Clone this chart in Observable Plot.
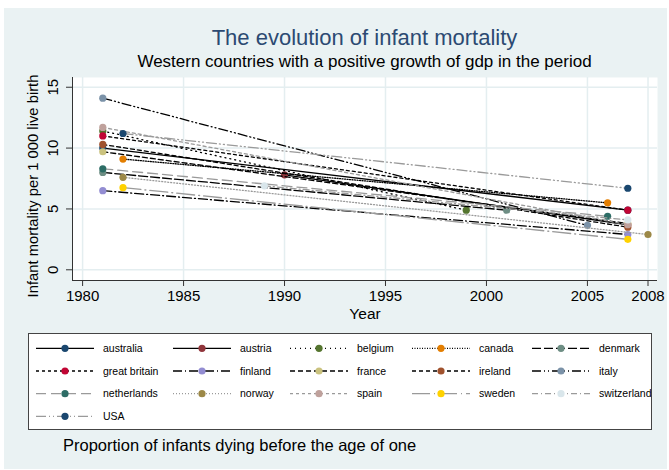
<!DOCTYPE html>
<html>
<head>
<meta charset="utf-8">
<script src="https://cdn.jsdelivr.net/npm/d3@7"></script>
<script src="https://cdn.jsdelivr.net/npm/@observablehq/plot@0.6"></script>
<style>
  html, body { margin: 0; padding: 0; background: #fff; }
  #wrap { position: relative; width: 669px; height: 470px; overflow: hidden; background: #fff;
          font-family: "Liberation Sans", Arial, sans-serif; color: #000; }
  #bg { position: absolute; left: 4px; top: 8px; width: 663px; height: 461px; background: #EAF2F3; }
  .abs { position: absolute; white-space: nowrap; }
  #title { left: 72px; width: 585px; top: 25px; height: 26px; line-height: 26px; text-align: center;
           font-size: 22px; color: #2C4A72; }
  #subtitle { left: 72px; width: 585px; top: 51px; height: 22px; line-height: 22px; text-align: center;
              font-size: 17px; }
  #chart { left: 0; top: 0; }
  #legend { left: 28px; top: 333px; width: 624px; height: 97px; box-sizing: border-box;
            background: #fff; border: 1px solid #444; }
  #caption { left: 63px; top: 435px; height: 20px; line-height: 20px; font-size: 16.5px; }
</style>
</head>
<body>
<div id="wrap">
  <div id="bg"></div>
  <div id="title" class="abs">The evolution of infant mortality</div>
  <div id="subtitle" class="abs">Western countries with a positive growth of gdp in the period</div>
  <div id="chart" class="abs"></div>
  <div id="legend" class="abs"></div>
  <div id="caption" class="abs">Proportion of infants dying before the age of one</div>
</div>
<script>
// ---- data ----
const countries = ["australia","austria","belgium","canada","denmark","great britain","finland","france","ireland","italy","netherlands","norway","spain","sweden","switzerland","USA"];
const startYear  = [1981, 1990, 1981, 1982, 1981, 1981, 1981, 1981, 1981, 1981, 1981, 1982, 1981, 1982, 1989, 1982];
const startValue = [10.0, 7.8, 11.4, 9.1, 8.0, 11.0, 6.5, 9.7, 10.3, 14.1, 8.3, 7.6, 11.7, 6.75, 6.9, 11.2];
const endYear    = [2007, 2007, 1999, 2006, 2001, 2007, 2007, 2007, 2007, 2005, 2006, 2008, 2007, 2007, 2007, 2007];
const endValue   = [4.9, 3.7, 4.9, 5.5, 4.9, 4.9, 2.9, 3.8, 3.5, 3.65, 4.4, 2.9, 3.7, 2.5, 4.1, 6.7];
const xTicks = [1980, 1985, 1990, 1995, 2000, 2005, 2008];
const yTicks = [0, 5, 10, 15];

// ---- styles ----
const markerColors = ["#1A476F","#90353B","#55752F","#E37E00","#6E8E84","#C10534","#938DD2","#CAC27E","#A0522D","#7B92A8","#2D6D66","#9C8847","#BFA19C","#FFD200","#D9E6EB","#1A476F"];
const lineColors = countries.map((c, i) => i < 10 ? "#000" : "#9A9A9A");
const dashes = [null, null, "1 4", "1 1.5", "9 3", "3 3", "9 3 1 3", "5 3", "4 3", "9 3 1 3 1 3", "10 5", "1 2", "3 3", "18 4 1 4", "6 3 1 3", "10 3 1 3 1 3"];

const points = [];
countries.forEach((c, i) => {
  points.push({country: c, i, year: startYear[i], value: startValue[i]});
  points.push({country: c, i, year: endYear[i], value: endValue[i]});
});

const xDomain = [1979.5, 2008.47];
const yDomain = [-0.88, 15.8];
const font = "Liberation Sans, Arial, sans-serif";

const seriesMarks = countries.flatMap((c, i) => {
  const pts = points.filter(d => d.i === i);
  return [
    Plot.line(pts, {
      x: "year", y: "value", stroke: lineColors[i], strokeWidth: 1.3,
      strokeDasharray: dashes[i] || undefined
    }),
    Plot.dot(pts, {x: "year", y: "value", fill: markerColors[i], r: 3.6, stroke: "none"})
  ];
});

const chart = Plot.plot({
  width: 669, height: 330,
  marginLeft: 72, marginRight: 12, marginTop: 77, marginBottom: 50,
  style: {background: "transparent", fontFamily: font, fontSize: "15px", color: "#000", overflow: "visible"},
  x: {domain: xDomain},
  y: {domain: yDomain},
  marks: [
    Plot.frame({fill: "white", stroke: "none"}),
    Plot.gridX(xTicks, {stroke: "#E4EEF0", strokeOpacity: 1, strokeWidth: 1.5}),
    Plot.gridY(yTicks, {stroke: "#E4EEF0", strokeOpacity: 1, strokeWidth: 1.5}),
    ...seriesMarks,
    Plot.ruleY([yDomain[0]], {stroke: "#333", strokeWidth: 1}),
    Plot.ruleX([xDomain[0]], {stroke: "#333", strokeWidth: 1}),
    Plot.axisX(xTicks, {tickSize: 6, tickPadding: 4, label: null, fontSize: 15, stroke: "#333", tickFormat: d => String(d)}),
    Plot.axisY(yTicks, {tickSize: 6, label: null, stroke: "#333", tickFormat: () => ""}),
    Plot.text(yTicks, {y: d => d, text: d => String(d), frameAnchor: "left", dx: -19, rotate: -90,
                       textAnchor: "middle", lineAnchor: "middle", fontSize: 15, fill: "#000"}),
    Plot.text(["Year"], {frameAnchor: "bottom", dy: 34, lineAnchor: "middle", textAnchor: "middle", fontSize: 15.5, fill: "#000"}),
    Plot.text(["Infant mortality per 1 000 live birth"], {frameAnchor: "left", dx: -39, dy: 7, rotate: -90,
                       textAnchor: "middle", lineAnchor: "middle", fontSize: 14.8, fill: "#000"})
  ]
});
document.getElementById("chart").appendChild(chart);

// ---- legend ----
const colX = [7, 144, 261, 383, 503];
const rowY = [14.3, 37, 59.7, 82.3];
const symW = 58, labelOff = 67;
const svg = d3.select("#legend").append("svg")
  .attr("width", 622).attr("height", 95)
  .style("position", "absolute").style("left", "0").style("top", "0");
countries.forEach((c, i) => {
  const x0 = colX[i % 5], y0 = rowY[Math.floor(i / 5)];
  const g = svg.append("g");
  const ln = g.append("line").attr("x1", x0).attr("x2", x0 + symW).attr("y1", y0).attr("y2", y0)
    .attr("stroke", lineColors[i]).attr("stroke-width", 1.3);
  if (dashes[i]) ln.attr("stroke-dasharray", dashes[i]);
  g.append("circle").attr("cx", x0 + symW / 2).attr("cy", y0).attr("r", 3.6).attr("fill", markerColors[i]);
  g.append("text").attr("x", x0 + labelOff).attr("y", y0).attr("dy", "0.35em")
    .attr("font-family", font).attr("font-size", 10.5).attr("fill", "#000").text(c);
});
</script>
</body>
</html>
